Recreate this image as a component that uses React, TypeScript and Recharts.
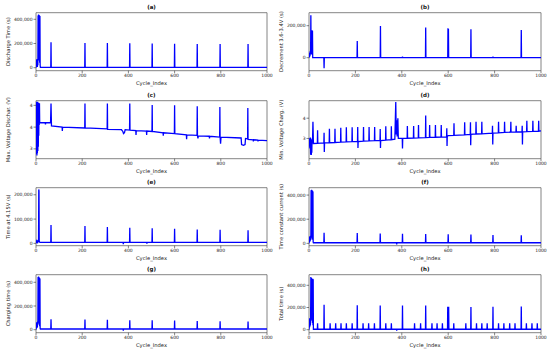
import { LineChart, Line, XAxis, YAxis, ReferenceArea } from "recharts";

const cycleTicks = [0, 200, 400, 600, 800, 1000];

// (a) Discharge Time
const dischargeBurstCycles = [0, 1, 2, 3, 4, 5, 6, 7, 8, 9, 10, 11, 12, 13, 14, 15, 16, 17, 18, 19];
const dischargeBurst = [0, 62000, 5000, 70000, 8000, 66000, 5000, 72000, 20000, 432000, 60000, 440000, 80000, 436000, 60000, 432000, 40000, 428000, 20000, 3000];
const dischargeSpikeCycles = [65, 212, 309, 406, 503, 600, 698, 797, 918];
const dischargeSpikes = [210000, 205000, 205000, 202000, 200000, 197000, 195000, 195000, 195000];

// (b) Decrement 3.6-3.4V
const decrementBurstCycles = [0, 1, 2, 3, 4, 5, 6, 7, 8, 9, 10, 11, 12, 13, 14, 15, 16, 17];
const decrementBurst = [0, 15000, 5000, 30000, 10000, 40000, 20000, 45000, 265000, 30000, 50000, 20000, 60000, 172000, 20000, 168000, 0, 0];
const decrementSpikeCycles = [65, 208, 308, 403, 503, 599, 601, 698, 793, 915];
const decrementSpikes = [-66000, 104000, 198000, 6000, 188000, 184000, 180000, 177000, 6000, 173000];

// (c) Max. Voltage Dischar.
const maxVoltCycles = [0, 1, 2, 3, 4, 5, 6, 7, 8, 9, 10, 11, 12, 13, 14, 15, 16, 40, 41, 42, 63, 65, 67, 113, 114, 115, 211, 212, 213, 308, 309, 310, 370, 376, 379, 383, 386, 405, 406, 407, 432, 433, 434, 478, 479, 480, 502, 503, 504, 550, 551, 552, 599, 600, 601, 651, 652, 653, 697, 698, 699, 701, 703, 750, 751, 752, 795, 796, 797, 799, 801, 888, 890, 898, 905, 907, 916, 917, 918, 940, 941, 942, 960, 961, 962, 1000];
const maxVolt = [3.0, 4.05, 2.88, 4.08, 2.85, 4.05, 2.9, 4.08, 2.95, 4.05, 3.05, 4.06, 3.3, 4.05, 3.55, 4.05, 3.6, 3.6, 3.56, 3.6, 3.6, 4.04, 3.53, 3.5, 3.41, 3.5, 3.48, 4.04, 3.48, 3.46, 4.04, 3.45, 3.44, 3.4, 3.35, 3.37, 3.44, 3.43, 4.04, 3.43, 3.42, 3.32, 3.42, 3.41, 3.32, 3.41, 3.4, 4.01, 3.4, 3.37, 3.3, 3.37, 3.35, 4.0, 3.35, 3.32, 3.22, 3.32, 3.31, 3.98, 3.3, 3.24, 3.3, 3.29, 3.24, 3.29, 3.27, 3.96, 3.27, 3.12, 3.27, 3.25, 3.1, 3.08, 3.1, 3.24, 3.23, 3.94, 3.22, 3.21, 3.17, 3.21, 3.2, 3.17, 3.2, 3.19];

// (d) Min. Voltage Charg.
const minVoltCycles = [0, 2, 4, 5, 6, 7, 8, 10, 11, 12, 13, 15, 17, 19,
  36, 37, 38, 64, 65, 66, 67, 87, 88, 89, 111, 112, 113, 136, 137, 138, 160, 161, 162, 185, 186, 187,
  209, 210, 211, 212, 234, 235, 236, 258, 259, 260, 282, 283, 284, 306, 307, 308, 309, 330, 331, 332, 354, 355, 356,
  370, 374, 376, 378, 380, 383, 385, 402, 403, 404, 423, 424, 425, 450, 451, 452, 471, 472, 473, 502, 503, 504,
  519, 520, 521, 544, 545, 546, 569, 570, 571, 593, 594, 595, 596, 600, 624, 625, 626, 670, 671, 672,
  695, 696, 697, 698, 719, 720, 721, 744, 745, 746, 790, 791, 792, 793, 816, 817, 818, 842, 843, 844,
  869, 870, 871, 892, 893, 894, 918, 919, 920, 921, 938, 939, 940, 964, 965, 966, 989, 990, 991, 1000];
const minVolt = [2.5, 2.9, 3.02, 2.6, 3.05, 2.2, 3.0, 2.18, 2.95, 2.3, 2.9, 2.75, 3.83, 2.75,
  2.76, 3.4, 2.76, 2.78, 3.28, 2.33, 2.78, 2.79, 3.48, 2.79, 2.8, 3.48, 2.8, 2.82, 3.53, 2.82, 2.83, 3.55, 2.83, 2.84, 3.55, 2.84,
  2.85, 3.57, 2.53, 2.85, 2.87, 3.57, 2.87, 2.88, 3.57, 2.88, 2.89, 3.57, 2.89, 2.9, 3.47, 2.53, 2.9, 2.92, 3.6, 2.92, 2.94, 3.6, 2.94,
  2.96, 4.8, 3.2, 3.9, 3.1, 4.0, 3.0, 3.0, 2.5, 3.0, 3.01, 3.62, 3.01, 3.02, 3.62, 3.02, 3.03, 3.67, 3.03, 3.04, 4.13, 3.04,
  3.05, 3.67, 3.05, 3.06, 3.67, 3.06, 3.07, 3.67, 3.07, 3.08, 3.5, 2.63, 3.1, 3.14, 3.15, 3.75, 3.15, 3.18, 3.8, 3.18,
  3.2, 3.8, 2.67, 3.2, 3.22, 3.83, 3.22, 3.23, 3.83, 3.23, 3.26, 3.63, 2.7, 3.26, 3.28, 3.83, 3.28, 3.3, 3.83, 3.3,
  3.31, 3.83, 3.31, 3.32, 3.63, 3.32, 3.33, 3.63, 2.7, 3.33, 3.34, 3.88, 3.34, 3.35, 3.88, 3.35, 3.36, 3.88, 3.36, 3.37];

// (e) Time at 4.15V
const cvBurstCycles = [0, 2, 4, 6, 8, 10, 11, 12, 13, 14, 15, 17];
const cvBurst = [2000, 9000, 4000, 9000, 5000, 10000, 6000, 222000, 215000, 8000, 6000, 4000];
const cvSpikeCycles = [65, 212, 309, 378, 406, 480, 503, 600, 698, 797, 918];
const cvSpikes = [76000, 71000, 67000, -3000, 64000, -1500, 62500, 60000, 57000, 56000, 54000];

// (f) Time constant current
const ccBurstCycles = [0, 1, 2, 3, 4, 5, 6, 7, 8, 9, 10, 11, 12, 13, 14, 15, 16, 17, 18, 19];
const ccBurst = [0, 40000, 10000, 55000, 15000, 60000, 25000, 62000, 30000, 440000, 60000, 445000, 50000, 440000, 40000, 435000, 30000, 430000, 10000, 5000];
const ccSpikeCycles = [65, 208, 307, 378, 403, 503, 600, 698, 793, 915];
const ccSpikes = [87000, 85000, 81000, -8000, 80000, 78000, 76000, 73000, 70000, 68000];

// (g) Charging time
const chargeBurstCycles = [0, 1, 2, 3, 4, 5, 6, 7, 8, 9, 10, 11, 12, 13, 14, 15, 16, 17, 18, 19];
const chargeBurst = [0, 45000, 10000, 60000, 15000, 65000, 20000, 68000, 40000, 445000, 70000, 448000, 60000, 442000, 50000, 438000, 30000, 432000, 12000, 6000];
const chargeSpikeCycles = [65, 212, 309, 378, 406, 503, 600, 698, 797, 918];
const chargeSpikes = [88000, 85000, 83000, -8000, 80000, 79000, 77000, 74000, 72000, 70000];

// (h) Total time
const totalBurstCycles = [0, 1, 2, 3, 4, 5, 6, 7, 8, 9, 10, 11, 12, 13, 14, 15, 16, 17, 18, 19];
const totalBurst = [0, 80000, 20000, 100000, 30000, 105000, 40000, 110000, 475000, 100000, 465000, 90000, 462000, 80000, 460000, 60000, 458000, 40000, 455000, 4000];
const totalSpikeCycles = [37, 65, 91, 115, 138, 161, 186, 208, 233, 257, 282, 307, 331, 355, 378, 403, 455, 481, 503, 530, 552, 575, 598, 602, 624, 676, 698, 722, 745, 768, 793, 817, 840, 865, 888, 915, 937, 961, 984];
const totalSpikes = [58000, 225000, 58000, 58000, 58000, 58000, 58000, 220000, 58000, 58000, 58000, 218000, 58000, 58000, -8000, 218000, 58000, 58000, 218000, 58000, 58000, 58000, 207000, 207000, 58000, 58000, 205000, 58000, 58000, 58000, 207000, 58000, 58000, 58000, 58000, 210000, 58000, 58000, 58000];

type Pt = { cycle: number; value: number };

const pairs = (cycles: number[], values: number[]): Pt[] =>
  cycles.map((c, i) => ({ cycle: c, value: values[i] }));

// burst at the start, then one-cycle spikes standing on a flat baseline
function spiky(bc: number[], bv: number[], sc: number[], sv: number[], base: number): Pt[] {
  const pts = pairs(bc, bv);
  sc.forEach((c, i) => {
    pts.push({ cycle: c - 1, value: base }, { cycle: c, value: sv[i] }, { cycle: c + 1, value: base });
  });
  pts.push({ cycle: 1000, value: base });
  return pts;
}

const fmt = (v: number) => Math.round(v).toLocaleString("en-US");

const tickStyle = { fontSize: 4.5, fill: "#222" };

function Panel({
  col,
  row,
  title,
  yLabel,
  data,
  domain,
  ticks,
}: {
  col: number;
  row: number;
  title: string;
  yLabel: string;
  data: Pt[];
  domain: [number, number];
  ticks: number[];
}) {
  const left = col === 0 ? 0 : 275;
  const top = [0, 88, 175, 262][row];
  const axisW = col === 0 ? 36 : 34;
  const rightM = col === 0 ? 8 : 9;
  return (
    <div style={{ position: "absolute", left, top, width: 275, height: 88 }}>
      <div
        style={{
          position: "absolute",
          left: axisW,
          width: 275 - axisW - rightM,
          top: 4,
          textAlign: "center",
          fontSize: 5.5,
          lineHeight: "6px",
          fontWeight: "bold",
          color: "#111",
        }}
      >
        {title}
      </div>
      <LineChart width={275} height={88} data={data} margin={{ top: 12.7, right: rightM, bottom: 0, left: 0 }}>
        <XAxis
          dataKey="cycle"
          type="number"
          domain={[0, 1000]}
          ticks={cycleTicks}
          allowDataOverflow
          height={17.3}
          tick={tickStyle}
          tickSize={2.5}
          tickMargin={1}
          axisLine={false}
          tickLine={{ stroke: "#333", strokeWidth: 0.6 }}
          label={{ value: "Cycle_Index", position: "insideBottom", offset: 3.4, fontSize: 5.2, fill: "#222" }}
        />
        <YAxis
          type="number"
          domain={domain}
          ticks={ticks}
          allowDataOverflow
          width={axisW}
          tick={tickStyle}
          tickFormatter={fmt}
          tickSize={2.5}
          tickMargin={1}
          axisLine={false}
          tickLine={{ stroke: "#333", strokeWidth: 0.6 }}
          label={{
            value: yLabel,
            angle: -90,
            position: "insideLeft",
            offset: col === 0 ? 8 : 6,
            textAnchor: "middle",
            fontSize: 5.2,
            fill: "#222",
          }}
        />
        <ReferenceArea x1={0} x2={1000} y1={domain[0]} y2={domain[1]} fill="none" stroke="#666" strokeWidth={0.8} />
        <Line
          type="linear"
          dataKey="value"
          stroke="#0000ff"
          strokeWidth={1.3}
          dot={false}
          isAnimationActive={false}
        />
      </LineChart>
    </div>
  );
}

export default function App() {
  return (
    <div
      style={{
        position: "absolute",
        left: 0,
        top: 0,
        width: 550,
        height: 352,
        background: "#fff",
        fontFamily: "'DejaVu Sans', sans-serif",
      }}
    >
      <Panel col={0} row={0} title="(a)" yLabel="Discharge Time (s)"
        data={spiky(dischargeBurstCycles, dischargeBurst, dischargeSpikeCycles, dischargeSpikes, 3000)}
        domain={[-24800, 454500]} ticks={[0, 200000, 400000]} />
      <Panel col={1} row={0} title="(b)" yLabel="Decrement 3.6-3.4V (s)"
        data={spiky(decrementBurstCycles, decrementBurst, decrementSpikeCycles, decrementSpikes, 0)}
        domain={[-81250, 281250]} ticks={[0, 200000]} />
      <Panel col={0} row={1} title="(c)" yLabel="Max. Voltage Dischar. (V)"
        data={pairs(maxVoltCycles, maxVolt)}
        domain={[2.774, 4.107]} ticks={[3, 3.5, 4]} />
      <Panel col={1} row={1} title="(d)" yLabel="Min. Voltage Charg. (V)"
        data={pairs(minVoltCycles, minVolt)}
        domain={[2.0, 4.865]} ticks={[3, 4]} />
      <Panel col={0} row={2} title="(e)" yLabel="Time at 4.15V (s)"
        data={spiky(cvBurstCycles, cvBurst, cvSpikeCycles, cvSpikes, 4000)}
        domain={[-9600, 229200]} ticks={[0, 100000, 200000]} />
      <Panel col={1} row={2} title="(f)" yLabel="Time constant current (s)"
        data={spiky(ccBurstCycles, ccBurst, ccSpikeCycles, ccSpikes, 5000)}
        domain={[-19300, 461000]} ticks={[0, 200000, 400000]} />
      <Panel col={0} row={3} title="(g)" yLabel="Charging time (s)"
        data={spiky(chargeBurstCycles, chargeBurst, chargeSpikeCycles, chargeSpikes, 6000)}
        domain={[-25300, 464000]} ticks={[0, 200000, 400000]} />
      <Panel col={1} row={3} title="(h)" yLabel="Total time (s)"
        data={spiky(totalBurstCycles, totalBurst, totalSpikeCycles, totalSpikes, 4000)}
        domain={[-27000, 495500]} ticks={[0, 200000, 400000]} />
    </div>
  );
}
